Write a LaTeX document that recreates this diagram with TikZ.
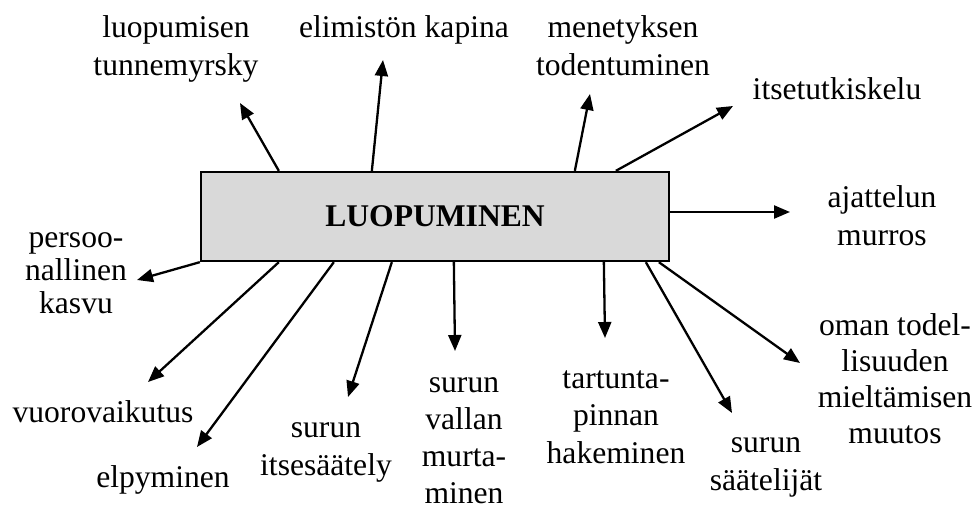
\documentclass[tikz,border=0pt]{standalone}
\usepackage{fontspec}
\setmainfont{Liberation Serif}
\usetikzlibrary{arrows.meta}
\tikzset{
  % labels are placed by the baseline of their last line
  lbl/.style={anchor=base, align=center, inner sep=0pt,
    font=\fontsize{31.6}{37.5}\selectfont},
  arr/.style={line width=2.3pt, -{Triangle[length=16pt,width=13pt]}},
  hub/.style={draw, line width=2.3pt, fill=black!15, minimum width=468pt,
    minimum height=89pt, inner sep=0pt,
    font=\fontsize{31.6}{37.5}\selectfont\bfseries}
}
\begin{document}
\begin{tikzpicture}[x=1pt, y=-1pt]
\useasboundingbox (0,0) rectangle (977,507);

% central concept
\node[hub] (box) at (435,216.5) {LUOPUMINEN};

% surrounding labels
\node[lbl] (l1)  at (176,75)  {luopumisen\\tunnemyrsky};
\node[lbl] (l2)  at (404,37)  {elimistön kapina};
\node[lbl] (l3)  at (623,75)  {menetyksen\\todentuminen};
\node[lbl] (l4)  at (837,99)  {itsetutkiskelu};
\node[lbl] (l5)  at (882,245) {ajattelun\\murros};
\node[lbl, font=\fontsize{31.6}{33}\selectfont] (l6) at (76,313) {persoo-\\nallinen\\kasvu};
\node[lbl] (l7)  at (103,422) {vuorovaikutus};
\node[lbl] (l8)  at (163,487) {elpyminen};
\node[lbl] (l9)  at (326,475) {surun\\itsesäätely};
\node[lbl, font=\fontsize{31.6}{36.7}\selectfont] (l10) at (464,503) {surun\\vallan\\murta-\\minen};
\node[lbl] (l11) at (616,463) {tartunta-\\pinnan\\hakeminen};
\node[lbl] (l12) at (766,490) {surun\\säätelijät};
\node[lbl, font=\fontsize{31.6}{36}\selectfont] (l13) at (895,443) {oman todel-\\lisuuden\\mieltämisen\\muutos};

% arrow heads end just short of their labels
\coordinate (t1)  at (240,103);
\coordinate (t2)  at (383,60);
\coordinate (t3)  at (590,94);
\coordinate (t4)  at (733,106);
\coordinate (t5)  at (790,212);
\coordinate (t6)  at (137,280);
\coordinate (t7)  at (148,382);
\coordinate (t8)  at (197,447);
\coordinate (t9)  at (348,397);
\coordinate (t10) at (455,351);
\coordinate (t11) at (605,338);
\coordinate (t12) at (732,413);
\coordinate (t13) at (800,363);

% connectors from the box
\draw[arr] ([xshift=79pt]box.north west)  -- (t1);
\draw[arr] ([xshift=172pt]box.north west) -- (t2);
\draw[arr] ([xshift=375pt]box.north west) -- (t3);
\draw[arr] ([xshift=416pt]box.north west) -- (t4);
\draw[arr] ([yshift=4.5pt]box.east)       -- (t5);
\draw[arr] (box.south west)               -- (t6);
\draw[arr] ([xshift=79pt]box.south west)  -- (t7);
\draw[arr] ([xshift=134pt]box.south west) -- (t8);
\draw[arr] ([xshift=192pt]box.south west) -- (t9);
\draw[arr] ([xshift=254pt]box.south west) -- (t10);
\draw[arr] ([xshift=404pt]box.south west) -- (t11);
\draw[arr] ([xshift=446pt]box.south west) -- (t12);
\draw[arr] ([xshift=459pt]box.south west) -- (t13);
\end{tikzpicture}
\end{document}
